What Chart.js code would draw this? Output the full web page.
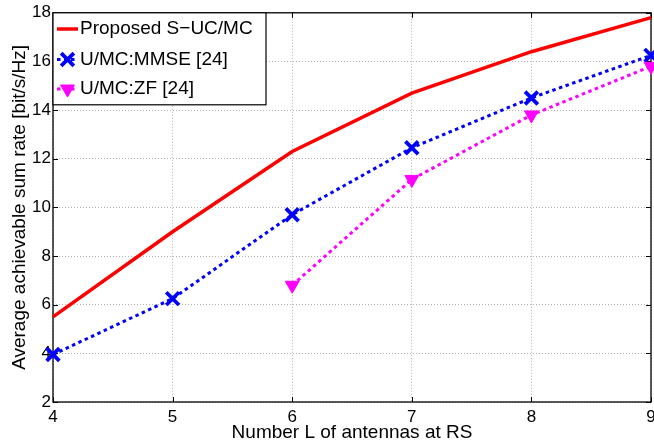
<!DOCTYPE html>
<html>
<head>
<meta charset="utf-8">
<script src="https://cdn.jsdelivr.net/npm/chart.js@4.4.1/dist/chart.umd.min.js"></script>
<style>
  html, body { margin: 0; padding: 0; background: #fff; overflow: hidden; }
  #wrap { width: 654px; height: 447px; overflow: hidden; position: relative; }
</style>
</head>
<body>
<div id="wrap"><canvas id="c" width="680" height="447"></canvas></div>
<script>
// ---- data ----
const antennasL = [4, 5, 6, 7, 8, 9];
const proposedSUCMC = [5.5, 9.0, 12.3, 14.7, 16.4, 17.8];
const mmseUMC = [3.95, 6.25, 9.7, 12.45, 14.5, 16.25];
const zfUMC = [null, null, 6.8, 11.15, 13.8, 15.8];
const seriesLabels = ['Proposed S\u2212UC/MC', 'U/MC:MMSE [24]', 'U/MC:ZF [24]'];
const xTicks = [4, 5, 6, 7, 8, 9];
const yTicks = [2, 4, 6, 8, 10, 12, 14, 16, 18];
const xTitle = 'Number L of antennas at RS';
const yTitle = 'Average achievable sum rate [bit/s/Hz]';

const FONT = "'Liberation Sans', Arial, Helvetica, sans-serif";
const toPts = ys => antennasL.map((l, i) => ({ x: l, y: ys[i] }));

// frame + inward ticks (MATLAB style)
const framePlugin = {
  id: 'frame',
  beforeDatasetsDraw(chart) {
    const { ctx, chartArea: a, scales } = chart;
    ctx.save();
    ctx.strokeStyle = '#000';
    ctx.lineWidth = 1;
    const tl = 5;
    ctx.beginPath();
    xTicks.forEach(v => {
      const x = Math.round(scales.x.getPixelForValue(v)) + 0.5;
      ctx.moveTo(x, a.bottom); ctx.lineTo(x, a.bottom - tl);
      ctx.moveTo(x, a.top); ctx.lineTo(x, a.top + tl);
    });
    yTicks.forEach(v => {
      const y = Math.round(scales.y.getPixelForValue(v)) + 0.5;
      ctx.moveTo(a.left, y); ctx.lineTo(a.left + tl, y);
      ctx.moveTo(a.right, y); ctx.lineTo(a.right - tl, y);
    });
    ctx.stroke();
    ctx.lineWidth = 1.3;
    ctx.strokeRect(a.left, a.top, a.right - a.left, a.bottom - a.top);
    ctx.restore();
  }
};

// legend box inside the plot, top-left
const legendPlugin = {
  id: 'boxLegend',
  afterDatasetsDraw(chart) {
    const { ctx, chartArea: a } = chart;
    const x0 = a.left, y0 = a.top, w = 213, h = 92;
    ctx.save();
    ctx.fillStyle = '#fff';
    ctx.fillRect(x0, y0, w, h);
    ctx.strokeStyle = '#000';
    ctx.lineWidth = 1.2;
    ctx.strokeRect(x0, y0, w, h);
    const rows = [29, 59.5, 89];
    chart.data.datasets.forEach((ds, i) => {
      const yy = rows[i];
      ctx.save();
      ctx.strokeStyle = ds.borderColor;
      ctx.lineWidth = ds.borderWidth;
      ctx.setLineDash(ds.borderDash || []);
      ctx.beginPath();
      ctx.moveTo(x0 + 4, yy);
      ctx.lineTo(x0 + 25, yy);
      ctx.stroke();
      ctx.setLineDash([]);
      if (ds.pointStyle && ds.pointRadius > 0) {
        ctx.strokeStyle = ds.pointBorderColor || ds.borderColor;
        ctx.fillStyle = ds.pointBackgroundColor || ds.borderColor;
        ctx.lineWidth = ds.pointBorderWidth;
        Chart.helpers.drawPoint(ctx, {
          pointStyle: ds.pointStyle,
          rotation: ds.pointRotation || 0,
          radius: ds.pointRadius,
          borderWidth: ds.pointBorderWidth
        }, x0 + 14.5, yy);
      }
      ctx.restore();
      ctx.fillStyle = '#000';
      ctx.font = '19px ' + FONT;
      ctx.textBaseline = 'middle';
      ctx.textAlign = 'left';
      ctx.fillText(ds.label, x0 + 27, yy);
    });
    ctx.restore();
  }
};

new Chart(document.getElementById('c'), {
  type: 'line',
  data: {
    datasets: [
      {
        label: seriesLabels[0],
        data: toPts(proposedSUCMC),
        borderColor: '#ff0000',
        backgroundColor: '#ff0000',
        borderWidth: 3.5,
        pointRadius: 0,
        pointStyle: false,
        tension: 0,
        clip: false,
        order: 3
      },
      {
        label: seriesLabels[1],
        data: toPts(mmseUMC),
        borderColor: '#0000ff',
        backgroundColor: '#0000ff',
        borderWidth: 3,
        borderDash: [3.5, 3.5],
        borderCapStyle: 'butt',
        pointStyle: 'crossRot',
        pointRadius: 9,
        pointBorderWidth: 3.8,
        pointBorderColor: '#0000ff',
        pointBackgroundColor: '#0000ff',
        tension: 0,
        clip: false,
        order: 2
      },
      {
        label: seriesLabels[2],
        data: toPts(zfUMC),
        borderColor: '#ff00ff',
        backgroundColor: '#ff00ff',
        borderWidth: 3,
        borderDash: [3.5, 3.5],
        borderCapStyle: 'butt',
        pointStyle: 'triangle',
        pointRotation: 180,
        pointRadius: 8,
        pointBorderWidth: 1,
        pointBorderColor: '#ff00ff',
        pointBackgroundColor: '#ff00ff',
        tension: 0,
        clip: false,
        order: 1
      }
    ]
  },
  options: {
    responsive: false,
    devicePixelRatio: 1,
    animation: false,
    layout: { padding: { top: 12, right: 29, left: 0, bottom: 0 } },
    plugins: {
      legend: { display: false },
      tooltip: { enabled: false }
    },
    elements: { line: { fill: false } },
    scales: {
      x: {
        type: 'linear',
        min: 4, max: 9,
        afterFit(s) { s.height = 45; },
        afterBuildTicks(s) { s.ticks = xTicks.map(v => ({ value: v })); },
        ticks: { color: '#000', font: { family: FONT, size: 17 }, padding: 5, maxRotation: 0 },
        grid: { color: '#b4b4b4', lineWidth: 1, drawTicks: false },
        border: { display: false, dash: [1, 2] },
        title: {
          display: true, text: xTitle, color: '#000',
          font: { family: FONT, size: 19 }, padding: { top: 0, bottom: 3 }
        }
      },
      y: {
        type: 'linear',
        min: 2, max: 18,
        afterFit(s) { s.width = 53; },
        afterBuildTicks(s) { s.ticks = yTicks.map(v => ({ value: v })); },
        ticks: { color: '#000', font: { family: FONT, size: 17 }, padding: 2 },
        grid: { color: '#b4b4b4', lineWidth: 1, drawTicks: false },
        border: { display: false, dash: [1, 2] },
        title: {
          display: true, text: yTitle, color: '#000',
          font: { family: FONT, size: 19 }, padding: { top: 8, bottom: 0 }
        }
      }
    }
  },
  plugins: [framePlugin, legendPlugin]
});
</script>
</body>
</html>
